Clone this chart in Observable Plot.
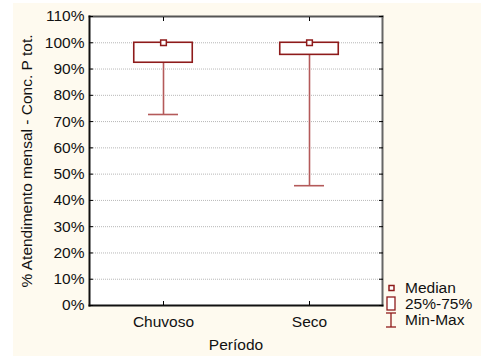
<!DOCTYPE html>
<html>
<head>
<meta charset="utf-8">
<script src="https://cdn.jsdelivr.net/npm/d3@7"></script>
<script src="https://cdn.jsdelivr.net/npm/@observablehq/plot@0.6"></script>
<style>
  html, body { margin: 0; padding: 0; background: #ffffff; }
  #wrap { position: relative; width: 481px; height: 356px; overflow: hidden; }
  #bg { position: absolute; left: 13px; top: 3px; right: 0; bottom: 0; background: #fefaef; }
  #chart { position: absolute; left: 0; top: 0; }
  #chart svg { font-family: "Liberation Sans", Arial, sans-serif !important; font-size: 15.5px !important; }
  #chart svg text { font-size: 15.5px !important; fill: #111; }
  #legend { position: absolute; left: 385px; top: 280px; font: 15.5px "Liberation Sans", Arial, sans-serif; color: #111; }
  #legend .row { display: flex; align-items: center; height: 16px; }
  #legend svg { width: 14px; height: 16px; margin-right: 6px; overflow: visible; }
</style>
</head>
<body>
<div id="wrap">
  <div id="bg"></div>
  <div id="chart"></div>
  <div id="legend"></div>
</div>
<script>
const categories = ["Chuvoso", "Seco"];
const minValues = [72.7, 45.6];
const q1Values = [92.4, 95.4];
const medianValues = [100, 100];
const q3Values = [100, 100];
const maxValues = [100, 100];
const yTicks = [0, 10, 20, 30, 40, 50, 60, 70, 80, 90, 100, 110];
const legendLabels = ["Median", "25%-75%", "Min-Max"];

const data = categories.map((c, i) => ({
  cat: c, min: minValues[i], q1: q1Values[i], med: medianValues[i], q3: q3Values[i], max: maxValues[i]
}));

const red = "#8e1b1b";
const light = "#b45a5a";

const chart = Plot.plot({
  width: 481,
  height: 356,
  marginLeft: 89,
  marginRight: 99,
  marginTop: 16,
  marginBottom: 51,
  style: "background: transparent;",
  x: { domain: categories, padding: 0, label: null },
  y: { domain: [0, 110], label: null },
  marks: [
    Plot.frame({ fill: "white", stroke: null }),
    Plot.gridY(yTicks, { stroke: "#999", strokeOpacity: 0.7, strokeDasharray: "1,1" }),
    // whiskers
    Plot.ruleX(data, { x: "cat", y1: "min", y2: "q1", stroke: light, strokeWidth: 1.6 }),
    Plot.ruleX(data, { x: "cat", y1: "q3", y2: "max", stroke: light, strokeWidth: 1.6 }),
    Plot.tickY(data, { x: "cat", y: "min", stroke: light, strokeWidth: 1.6, insetLeft: 58, insetRight: 58 }),
    Plot.tickY(data, { x: "cat", y: "max", stroke: light, strokeWidth: 1.6, insetLeft: 58, insetRight: 58 }),
    // boxes
    Plot.barY(data, { x: "cat", y1: "q1", y2: "q3", fill: "white", stroke: red, strokeWidth: 1.6, insetLeft: 43.75, insetRight: 43.75 }),
    Plot.dot(data, { x: "cat", y: "med", symbol: "square", r: 3.2, fill: "white", stroke: red, strokeWidth: 1.5 }),
    // frame lines
    Plot.frame({ anchor: "top", stroke: "#555", strokeWidth: 2 }),
    Plot.frame({ anchor: "right", stroke: "#666", strokeWidth: 2 }),
    Plot.frame({ anchor: "left", stroke: "#111", strokeWidth: 2 }),
    Plot.frame({ anchor: "bottom", stroke: "#111", strokeWidth: 2 }),
    // axes
    Plot.axisY(yTicks, { anchor: "left", tickSize: 0, tickPadding: 5, tickFormat: d => d + "%", label: "% Atendimento mensal - Conc. P tot.", labelAnchor: "center", labelArrow: "none", labelOffset: 69 }),
    Plot.axisY(yTicks, { anchor: "left", tickSize: -4, tickFormat: () => "", label: null }),
    Plot.axisY(yTicks, { anchor: "right", tickSize: -4, tickFormat: () => "", label: null }),
    Plot.axisX({ anchor: "bottom", tickSize: 0, tickPadding: 10, label: "Período", labelAnchor: "center", labelArrow: "none", labelOffset: 44 }),
    Plot.axisX({ anchor: "bottom", tickSize: -4, tickFormat: () => "", label: null }),
    Plot.axisX({ anchor: "top", tickSize: -4, tickFormat: () => "", label: null })
  ]
});
document.getElementById("chart").appendChild(chart);

// legend
const icons = [
  `<rect x="4" y="5.5" width="5" height="5" fill="white" stroke="${red}" stroke-width="1.5"/>`,
  `<rect x="2" y="1" width="8" height="13" fill="white" stroke="${red}" stroke-width="1.3"/>`,
  `<line x1="1" y1="1" x2="11" y2="1" stroke="${red}" stroke-width="1.3"/><line x1="6" y1="1" x2="6" y2="15" stroke="${red}" stroke-width="1.3"/><line x1="1" y1="15" x2="11" y2="15" stroke="${red}" stroke-width="1.3"/>`
];
const legend = document.getElementById("legend");
legendLabels.forEach((l, i) => {
  const row = document.createElement("div");
  row.className = "row";
  row.innerHTML = `<svg viewBox="0 0 14 16">${icons[i]}</svg><span>${l}</span>`;
  legend.appendChild(row);
});
</script>
</body>
</html>
